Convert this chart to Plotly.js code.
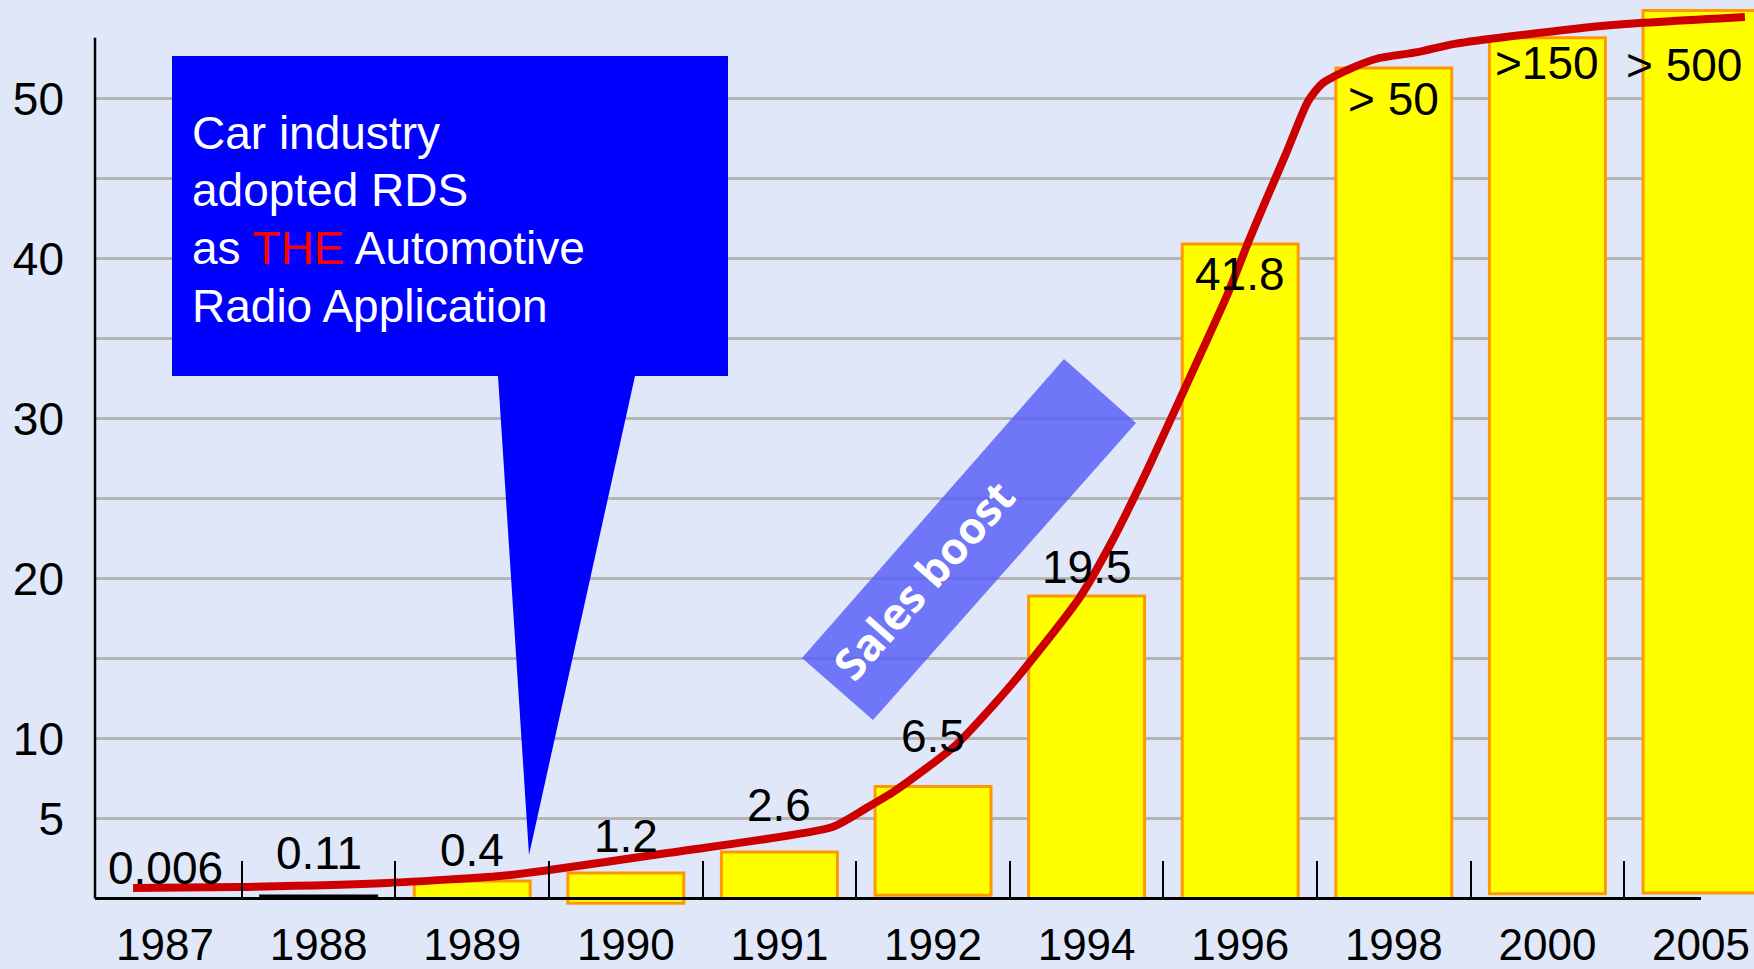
<!DOCTYPE html>
<html>
<head>
<meta charset="utf-8">
<script src="https://cdn.plot.ly/plotly-3.0.1.min.js"></script>
<style>
  html, body { margin: 0; padding: 0; background: #dfe7f9; }
  #chart { width: 1754px; height: 969px; }
</style>
</head>
<body>
<div id="chart"></div>
<script>
// ---- data ----
const categories = ['1987', '1988', '1989', '1990', '1991', '1992', '1994', '1996', '1998', '2000', '2005'];
const barLabels  = ['0.006', '0.11', '0.4', '1.2', '2.6', '6.5', '19.5', '41.8', '> 50', '>150', '> 500'];
const barTop     = [0.006, 0.15, 1.1, 1.6, 2.9, 7.0, 18.9, 40.9, 51.9, 53.8, 55.5];
const barBase    = [0, 0, 0, -0.3, 0, 0.2, 0, 0, 0, 0.3, 0.35];

// red trend curve (x in category-index units, y in chart units)
const curveX = [-0.208, 0.475, 1.450, 2.184, 2.456, 3.270, 4.345, 4.567, 4.748, 5.150, 5.522, 5.954, 6.175, 6.396,
                6.607, 6.919, 7.060, 7.170, 7.300, 7.440, 7.530, 7.703, 7.894, 8.155, 8.386, 8.688, 9.422, 10.286];
const curveY = [0.66, 0.72, 0.97, 1.41, 1.72, 2.84, 4.47, 5.66, 6.7, 9.6, 13.5, 18.8, 22.5, 26.8,
                31.2, 37.8, 41.2, 43.7, 46.6, 49.8, 50.9, 51.8, 52.5, 52.9, 53.4, 53.8, 54.6, 55.1];

const yTickVals  = [5, 10, 20, 30, 40, 50];
const yMinorVals = [15, 25, 35, 45];

// ---- styling / layout constants ----
const W = 1754, H = 969;
const ML = 95, MR = 0, MT = 0, MB = 54;
const PW = W - ML - MR, PH = H - MT - MB;
const PX = p => (p - ML) / PW;          // pixel -> paper (decorations only)
const PY = p => (PH + MT - p) / PH;
const labelShift  = [2, 15, 3, 9, 19, 23, 1, -2, -3, 3, -26];   // px nudges of the value labels
const labelXShift = [0, 0, 0, 0, 0, 0, 0, 0, 0, 0, -17];

const xIdx = categories.map((c, i) => i);
const barLen = barTop.map((t, i) => t - barBase[i]);
const fillColors = categories.map((c, i) => i === 1 ? '#000000' : '#ffff00');
const lineColors = categories.map((c, i) => i === 0 ? 'rgba(0,0,0,0)' : (i === 1 ? '#000000' : '#ff9900'));

const FONT = 'Liberation Sans, Arial, Helvetica, sans-serif';

const bars = {
  type: 'bar',
  x: xIdx,
  y: barLen,
  base: barBase,
  width: 0.755,
  marker: { color: fillColors, line: { color: lineColors, width: 3 } },
  hoverinfo: 'skip'
};

const curve = {
  type: 'scatter',
  mode: 'lines',
  x: curveX,
  y: curveY,
  line: { color: '#cc0000', width: 8, shape: 'spline', smoothing: 0.6 },
  hoverinfo: 'skip'
};

// value labels above / inside the bars
const valueLabels = barLabels.map((t, i) => {
  const inside = barTop[i] > 30;
  return {
    xref: 'x', yref: 'y', x: xIdx[i], y: barTop[i],
    xanchor: 'center', yanchor: inside ? 'top' : 'bottom',
    yshift: labelShift[i], xshift: labelXShift[i],
    text: t, showarrow: false,
    font: { family: FONT, size: 46, color: '#000000' }
  };
});

// callout box with tail
const boxPath = 'M ' + PX(172) + ',' + PY(56) +
  ' L ' + PX(728) + ',' + PY(56) +
  ' L ' + PX(728) + ',' + PY(376) +
  ' L ' + PX(635) + ',' + PY(376) +
  ' L ' + PX(529) + ',' + PY(855) +
  ' L ' + PX(498) + ',' + PY(376) +
  ' L ' + PX(172) + ',' + PY(376) + ' Z';

const boostPath = 'M ' + PX(1064) + ',' + PY(359) +
  ' L ' + PX(1136) + ',' + PY(423) +
  ' L ' + PX(873) + ',' + PY(720) +
  ' L ' + PX(802) + ',' + PY(658) + ' Z';

const yZeroPaper = PY(898.5);

const boxText = [
  { t: 'Car industry', y: 133 },
  { t: 'adopted RDS', y: 190 },
  { t: 'as <span style="color:#ff0000">THE</span> Automotive', y: 248 },
  { t: 'Radio Application', y: 306 }
].map(o => ({
  xref: 'paper', yref: 'paper', x: PX(190), y: PY(o.y), xanchor: 'left', yanchor: 'middle',
  text: o.t, showarrow: false, font: { family: FONT, size: 46, color: '#ffffff' }
}));

const layout = {
  width: W, height: H,
  margin: { l: ML, r: MR, t: MT, b: MB, pad: 0 },
  paper_bgcolor: '#dfe7f9',
  plot_bgcolor: '#dfe7f9',
  showlegend: false,
  hovermode: false,
  font: { family: FONT, color: '#000000' },
  xaxis: {
    type: 'linear',
    range: [-0.456, 10.345],
    anchor: 'free',
    position: yZeroPaper,
    showline: false,
    showgrid: false,
    zeroline: false,
    tickmode: 'array',
    tickvals: xIdx,
    ticktext: categories,
    ticks: '',
    ticklabelstandoff: 16,
    ticklabeloverflow: 'allow',
    tickfont: { family: FONT, size: 44, color: '#000000' },
    minor: {
      tickmode: 'array',
      tickvals: xIdx.slice(0, -1).map(i => i + 0.5),
      ticks: 'inside',
      ticklen: 38,
      tickwidth: 2,
      tickcolor: '#000000',
      showgrid: false
    },
    fixedrange: true
  },
  yaxis: {
    type: 'linear',
    range: [-(PH + MT - 898.5) / 16, 898.5 / 16],
    showline: false,
    zeroline: false,
    showgrid: true,
    gridcolor: '#b4b4b4',
    gridwidth: 2.5,
    tickmode: 'array',
    tickvals: yTickVals,
    ticks: '',
    ticklabelstandoff: 30,
    tickfont: { family: FONT, size: 46, color: '#000000' },
    minor: {
      tickmode: 'array',
      tickvals: yMinorVals,
      showgrid: true,
      gridcolor: '#b4b4b4',
      gridwidth: 2.5,
      ticks: ''
    },
    fixedrange: true
  },
  shapes: [
    { type: 'path', xref: 'paper', yref: 'paper', path: boxPath,
      fillcolor: '#0000ff', line: { width: 0 }, layer: 'above' },
    { type: 'path', xref: 'paper', yref: 'paper', path: boostPath,
      fillcolor: 'rgba(82,90,248,0.8)', line: { width: 0 }, layer: 'above' },
    // axis lines
    { type: 'line', xref: 'paper', yref: 'y', x0: 0, x1: 0, y0: 0, y1: 53.8,
      line: { color: '#000000', width: 2.5 }, layer: 'above' },
    { type: 'line', xref: 'paper', yref: 'y', x0: 0, x1: PX(1701), y0: 0, y1: 0,
      line: { color: '#000000', width: 3 }, layer: 'above' }
  ],
  annotations: valueLabels.concat(boxText, [
    { xref: 'paper', yref: 'paper', x: PX(923), y: PY(580), xanchor: 'center', yanchor: 'middle',
      text: '<b>Sales boost</b>', textangle: -48.6, showarrow: false,
      font: { family: 'Open Sans, Noto Sans, sans-serif', size: 44, color: '#ffffff' } }
  ])
};

Plotly.newPlot('chart', [bars, curve], layout, { displayModeBar: false, staticPlot: true });
</script>
</body>
</html>
